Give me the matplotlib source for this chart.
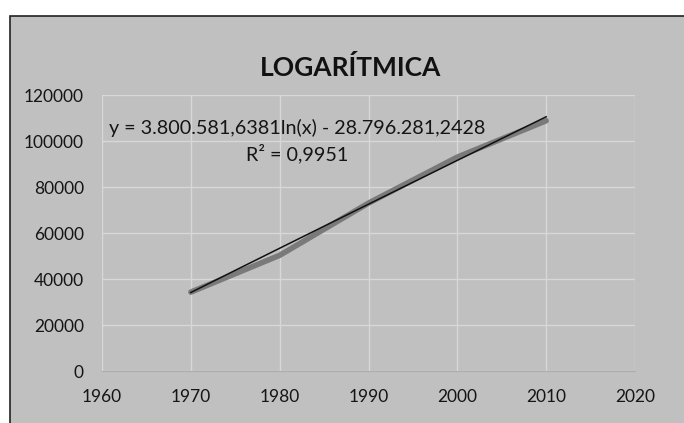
import numpy as np
import matplotlib
matplotlib.use('Agg')
import matplotlib.pyplot as plt
from matplotlib.patches import Rectangle

# data
years = [1970, 1980, 1990, 2000, 2010]
values = [34300, 50300, 73000, 93000, 108800]

# trendline coefficients as printed on the chart
coef_a = 3800581.6381
coef_b = -28796281.2428
eq_text = 'y = 3.800.581,6381ln(x) - 28.796.281,2428'
r2_text = 'R² = 0,9951'
title = 'LOGARÍTMICA'

x_ticks = [1960, 1970, 1980, 1990, 2000, 2010, 2020]
y_ticks = [0, 20000, 40000, 60000, 80000, 100000, 120000]

bg = '#c0c0c0'
plt.rcParams['font.family'] = ['Lato', 'DejaVu Sans']

fig = plt.figure(figsize=(6.84, 4.23), dpi=100)
fig.patch.set_facecolor('white')
fig.patches.append(Rectangle((10 / 684, -0.1), 1.2, 1 - 16 / 423 + 0.1,
                             transform=fig.transFigure, facecolor=bg,
                             edgecolor='#222222', linewidth=1.2, zorder=-10))

ax = fig.add_axes([102 / 684, 1 - 371 / 423, (635 - 102) / 684, (371 - 95) / 423])
ax.set_zorder(1)
ax.set_facecolor(bg)
for s in ['top', 'right', 'left']:
    ax.spines[s].set_visible(False)
ax.spines['bottom'].set_color('#adadad')

ax.set_xlim(1960, 2020)
ax.set_ylim(0, 120000)
ax.set_xticks(x_ticks)
ax.set_yticks(y_ticks)
ax.tick_params(length=0, labelsize=12.5, labelcolor='#151515')
ax.tick_params(axis='y', pad=13)
ax.tick_params(axis='x', pad=13)
ax.grid(True, color='#d8d8d8', linewidth=1)
ax.set_axisbelow(True)

ax.plot(years, values, color='#7a7a7a', linewidth=4, solid_capstyle='round', zorder=3)

xt = np.linspace(years[0], years[-1], 50)
ax.plot(xt, coef_a * np.log(xt) + coef_b, color='#111111', linewidth=1.1, zorder=4)

ax.text(1982.0, 105800, eq_text, ha='center', va='center', fontsize=14.2, color='#151515')
ax.text(1982.0, 94600, r2_text, ha='center', va='center', fontsize=14.2, color='#151515')

fig.text(351 / 684, 1 - 67 / 423, title, ha='center', va='center',
         fontsize=19, fontweight='bold', color='#111111')

fig.savefig('out.png', dpi=100, facecolor=fig.get_facecolor())
